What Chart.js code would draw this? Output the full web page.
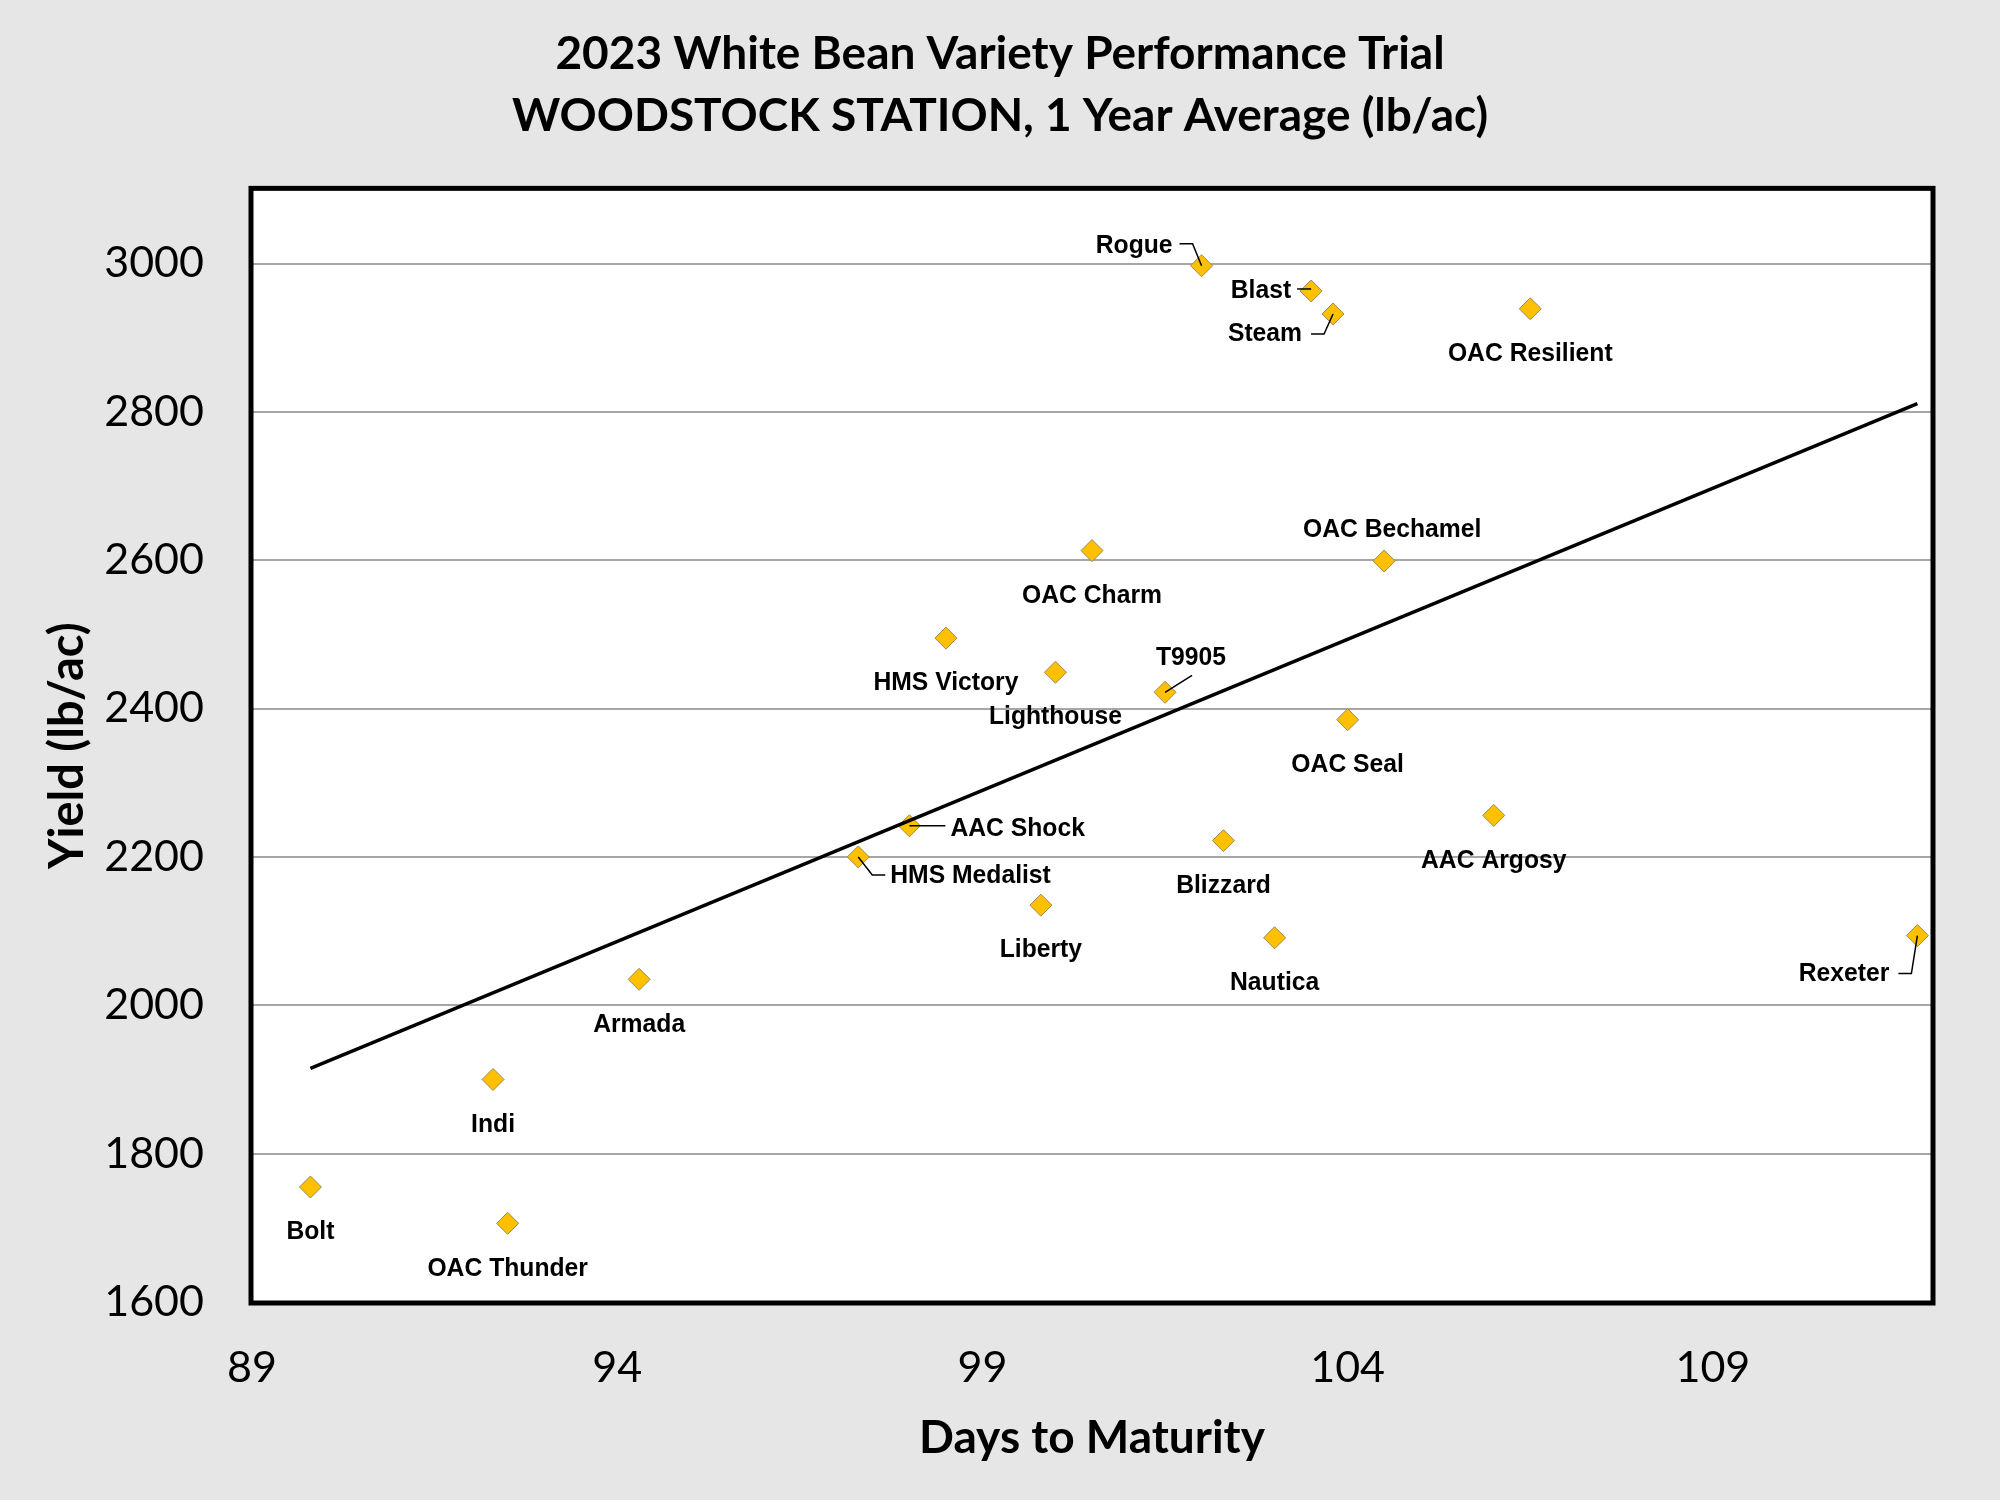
<!DOCTYPE html>
<html>
<head>
<meta charset="utf-8">
<script src="https://cdn.jsdelivr.net/npm/chart.js@4"></script>
<style>
  html, body { margin: 0; padding: 0; background: #e6e6e6; }
  canvas { display: block; }
</style>
</head>
<body>
<canvas id="myChart" width="2000" height="1500"></canvas>
<script>
const varieties = [
  'Bolt', 'Indi', 'OAC Thunder', 'Armada', 'HMS Medalist', 'AAC Shock',
  'HMS Victory', 'Liberty', 'Lighthouse', 'OAC Charm', 'T9905', 'Rogue',
  'Blizzard', 'Nautica', 'Blast', 'Steam', 'OAC Seal', 'OAC Bechamel',
  'AAC Argosy', 'OAC Resilient', 'Rexeter',
]
const days = [
  89.8, 92.3, 92.5, 94.3, 97.3, 98.0,
  98.5, 99.8, 100.0, 100.5, 101.5, 102.0,
  102.3, 103.0, 103.5, 103.8, 104.0, 104.5,
  106.0, 106.5, 111.8,
]
const yields = [
  1755, 1900, 1706, 2035, 2200, 2242,
  2495, 2135, 2449, 2613, 2422, 2997,
  2222, 2091, 2963, 2932, 2385, 2599,
  2256, 2939, 2094,
]
// linear trend line end points
const trendDays = [89.8, 111.8]
const trendYield = [1915, 2811]

const xTicks = [89, 94, 99, 104, 109]
const yTicks = [1600, 1800, 2000, 2200, 2400, 2600, 2800, 3000]

// where each label sits relative to its marker (px), and leader lines
const labelPlace = {
  'Rogue': { dx: -29, dy: -20, align: 'right', leader: [[-22, -22], [-9, -22], [0, 0]] },
  'Blast': { dx: -20, dy: 0, align: 'right', leader: [[-14, -2], [0, -2]] },
  'Steam': { dx: -31, dy: 20, align: 'right', leader: [[-22, 20], [-9, 20], [0, 0]] },
  'Rexeter': { dx: -28, dy: 38, align: 'right', leader: [[-19, 38], [-6, 38], [0, 0]] },
  'T9905': { dx: 26, dy: -34, align: 'center', leader: [[0, 0], [27, -17]] },
  'AAC Shock': { dx: 41, dy: 3, align: 'left', leader: [[0, 0], [36, 0]] },
  'HMS Medalist': { dx: 32, dy: 19, align: 'left', leader: [[0, 0], [14, 18], [27, 18]] },
  'OAC Bechamel': { dx: 8, dy: -31, align: 'center' },
}
const defaultPlace = { dx: 0, dy: 45, align: 'center' }

const labelFont = 'bold 26px "Liberation Sans", Arial, sans-serif'
const labelSqueeze = 0.95

const plotFrame = {
  id: 'plotFrame',
  beforeDraw(chart) {
    const { ctx, chartArea: a } = chart
    ctx.save()
    ctx.fillStyle = '#ffffff'
    ctx.fillRect(a.left, a.top, a.right - a.left, a.bottom - a.top)
    ctx.restore()
  },
  beforeDatasetsDraw(chart) {
    const { ctx, chartArea: a } = chart
    ctx.save()
    ctx.strokeStyle = '#000000'
    ctx.lineWidth = 5
    ctx.strokeRect(a.left - 1, a.top - 1, a.right - a.left + 2, a.bottom - a.top + 2)
    ctx.restore()
  },
}

const pointLabels = {
  id: 'pointLabels',
  afterDatasetsDraw(chart) {
    const { ctx } = chart
    const meta = chart.getDatasetMeta(1)
    ctx.save()
    ctx.font = labelFont
    ctx.fillStyle = '#000000'
    ctx.strokeStyle = '#000000'
    ctx.lineWidth = 1.5
    ctx.textBaseline = 'middle'
    meta.data.forEach((pt, i) => {
      const name = varieties[i]
      const p = labelPlace[name] || defaultPlace
      if (p.leader) {
        ctx.beginPath()
        p.leader.forEach(([lx, ly], k) => {
          if (k === 0) ctx.moveTo(pt.x + lx, pt.y + ly)
          else ctx.lineTo(pt.x + lx, pt.y + ly)
        })
        ctx.stroke()
      }
      ctx.save()
      ctx.translate(pt.x + p.dx, pt.y + p.dy)
      ctx.scale(labelSqueeze, 1)
      ctx.textAlign = p.align
      ctx.fillText(name, 0, 0)
      ctx.restore()
    })
    ctx.restore()
  },
}

const ctx = document.getElementById('myChart').getContext('2d')
const myChart = new Chart(ctx, {
  data: {
    datasets: [
      {
        type: 'line',
        label: 'Trend',
        data: trendDays.map((d, i) => ({ x: d, y: trendYield[i] })),
        borderColor: '#000000',
        borderWidth: 3.5,
        pointRadius: 0,
        fill: false,
      },
      {
        type: 'scatter',
        label: 'Yield',
        data: days.map((d, i) => ({ x: d, y: yields[i] })),
        pointStyle: 'rectRot',
        pointRadius: 11,
        backgroundColor: '#FFC000',
        borderColor: '#9a8a5a',
        borderWidth: 1,
      },
    ],
  },
  options: {
    responsive: false,
    animation: false,
    layout: { padding: 0 },
    plugins: {
      legend: { display: false },
      tooltip: { enabled: false },
      title: {
        display: true,
        text: ['2023 White Bean Variety Performance Trial', 'WOODSTOCK STATION, 1 Year Average (lb/ac)'],
        color: '#000000',
        font: { family: 'Lato', size: 46, weight: 'bold', lineHeight: 1.33 },
        padding: { top: 24, bottom: 43 },
      },
    },
    scales: {
      x: {
        type: 'linear',
        position: 'bottom',
        min: 89,
        max: 112,
        afterBuildTicks: (s) => { s.ticks = xTicks.map(v => ({ value: v })) },
        afterFit: (s) => { s.height = 198 },
        grid: { display: false, drawTicks: false },
        border: { display: false },
        ticks: {
          color: '#000000',
          padding: 40,
          font: { family: 'Lato', size: 43 },
          callback: (v) => String(v),
        },
        title: {
          display: true,
          text: 'Days to Maturity',
          color: '#000000',
          font: { family: 'Lato', size: 46, weight: 'bold' },
          padding: { top: 0, bottom: 34 },
        },
      },
      y: {
        type: 'linear',
        position: 'left',
        min: 1600,
        max: 3100,
        afterBuildTicks: (s) => { s.ticks = yTicks.map(v => ({ value: v })) },
        afterFit: (s) => { s.width = 252 },
        grid: { color: '#a6a6a6', lineWidth: 2, drawTicks: false },
        border: { display: false },
        ticks: {
          color: '#000000',
          padding: 48,
          font: { family: 'Lato', size: 43 },
          callback: (v) => String(v),
        },
        title: {
          display: true,
          text: 'Yield (lb/ac)',
          color: '#000000',
          font: { family: 'Lato', size: 47, weight: 'bold' },
          padding: { top: 40, bottom: 0 },
        },
      },
      yRight: {
        type: 'linear',
        position: 'right',
        display: true,
        afterFit: (s) => { s.width = 68 },
        grid: { display: false, drawTicks: false },
        border: { display: false },
        ticks: { display: false },
      },
    },
  },
  plugins: [plotFrame, pointLabels],
})
</script>
</body>
</html>
